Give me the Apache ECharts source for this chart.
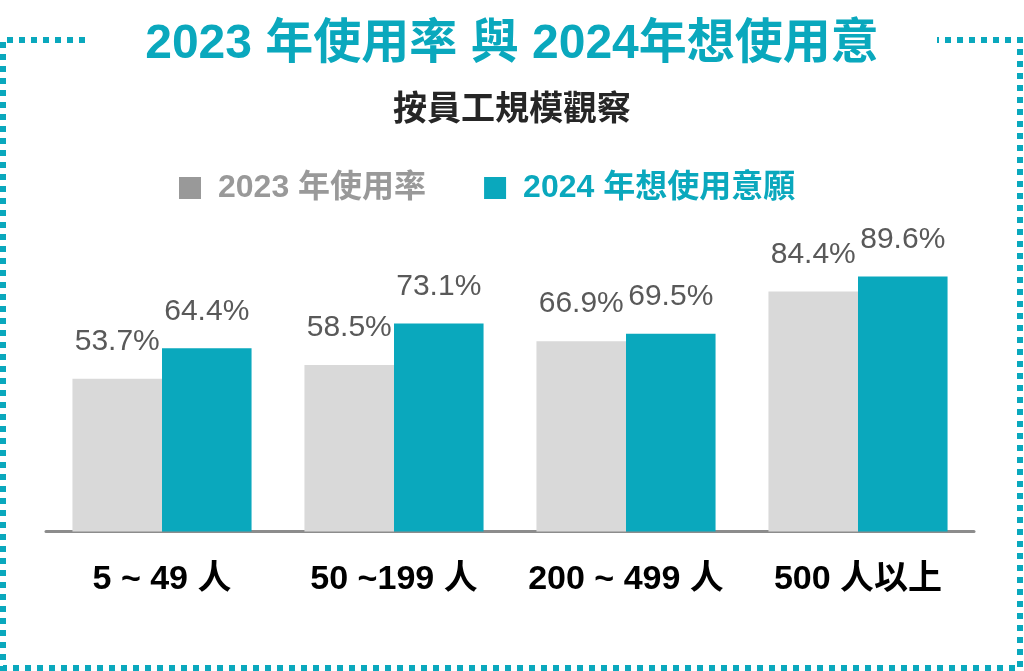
<!DOCTYPE html>
<html>
<head>
<meta charset="utf-8">
<script src="https://cdn.jsdelivr.net/npm/echarts@6/dist/echarts.min.js"></script>
<style>
html,body{margin:0;padding:0;background:#fff;}
#chart{width:1024px;height:671px;}
</style>
</head>
<body>
<div id="chart"></div>
<script>
var categories = ['5 ~ 49 人', '50 ~199 人', '200 ~ 499 人', '500 人以上'];
var usage2023 = [53.7, 58.5, 66.9, 84.4];
var intent2024 = [64.4, 73.1, 69.5, 89.6];
var seriesNames = ['2023 年使用率', '2024 年想使用意願'];

var FONT = '"Liberation Sans", "Noto Sans CJK TC", sans-serif';
var TEAL = '#0aa8bd';
var chart = echarts.init(document.getElementById('chart'));
var labelStyle = {
  show: true, position: 'top', distance: 22,
  formatter: function (p) { return p.value.toFixed(1) + '%'; },
  fontFamily: FONT, fontSize: 30, color: '#595959'
};
chart.setOption({
  animation: false,
  title: [
    { text: '2023 年使用率 與 2024年想使用意', left: 'center', top: 16,
      textStyle: { fontFamily: FONT, fontSize: 48, fontWeight: 'bold', color: TEAL } },
    { text: '按員工規模觀察', left: 'center', top: 89,
      textStyle: { fontFamily: FONT, fontSize: 34, fontWeight: 'bold', color: '#262626' } }
  ],
  legend: {
    left: 174, top: 167, itemWidth: 22, itemHeight: 22, itemGap: 58,
    icon: 'rect',
    data: [
      { name: seriesNames[0], itemStyle: { color: '#999999' }, textStyle: { color: '#999999' } },
      { name: seriesNames[1], itemStyle: { color: TEAL }, textStyle: { color: TEAL } }
    ],
    textStyle: { fontFamily: FONT, fontSize: 32, fontWeight: 'bold', padding: [0, 0, 0, 12] }
  },
  grid: { left: 46, right: 50, top: 247, bottom: 139.5, containLabel: false },
  xAxis: {
    type: 'category', data: categories,
    axisLine: { lineStyle: { color: '#8c8c8c', width: 3 } },
    axisTick: { show: false },
    axisLabel: { interval: 0, margin: 31, fontFamily: FONT, fontSize: 34, fontWeight: 'bold', color: '#000' }
  },
  yAxis: { type: 'value', min: 0, max: 100, show: false, splitLine: { show: false } },
  series: [
    { name: seriesNames[0], type: 'bar', data: usage2023, barGap: '0%', barCategoryGap: '22.8%',
      itemStyle: { color: '#d9d9d9' }, label: labelStyle },
    { name: seriesNames[1], type: 'bar', data: intent2024,
      itemStyle: { color: TEAL }, label: labelStyle }
  ],
  graphic: [{
    type: 'polyline', silent: true,
    shape: { points: [[85, 40], [3, 40], [3, 668], [1020, 668], [1020, 40], [937, 40]] },
    style: { stroke: TEAL, lineWidth: 6, lineDash: [6, 6], fill: null }
  }]
});
</script>
</body>
</html>
